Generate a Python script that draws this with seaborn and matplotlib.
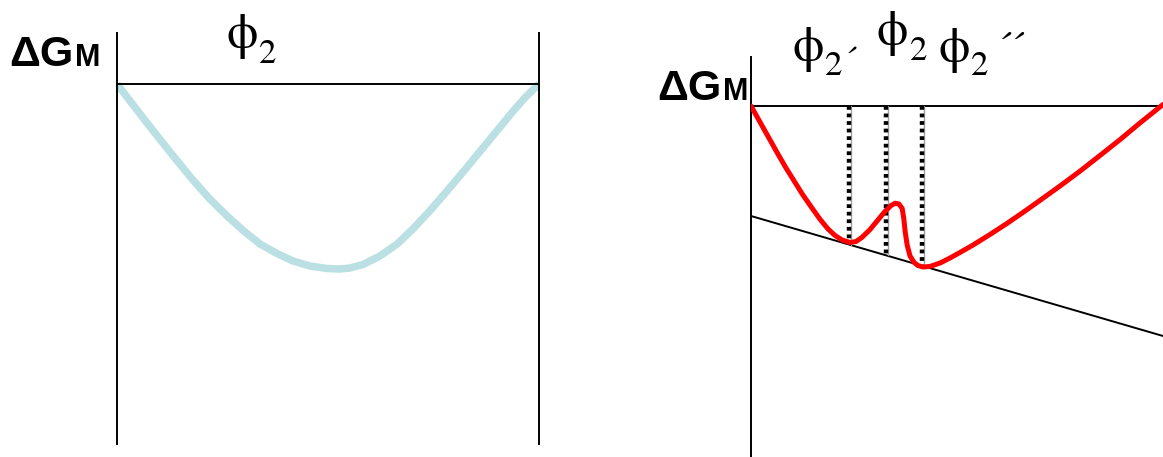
import matplotlib
matplotlib.use("Agg")
import matplotlib.pyplot as plt
import seaborn as sns
import pandas as pd

# Free energy of mixing vs. composition (arbitrary units, 0 = unmixed)
phi_single = [0.000, 0.031, 0.062, 0.102, 0.142, 0.180, 0.220, 0.261,
              0.299, 0.339, 0.379, 0.417, 0.457, 0.498, 0.528, 0.552,
              0.583, 0.623, 0.664, 0.701, 0.742, 0.782, 0.820, 0.860,
              0.900, 0.938, 0.967, 1.000]
dg_single = [0.000, -0.170, -0.340, -0.555, -0.765, -0.960, -1.150, -1.320,
             -1.465, -1.600, -1.695, -1.770, -1.820, -1.845, -1.850, -1.840,
             -1.805, -1.720, -1.600, -1.450, -1.265, -1.070, -0.880, -0.675,
             -0.470, -0.275, -0.135, 0.000]

phi_double = [0.000, 0.017, 0.034, 0.049, 0.066, 0.085, 0.107, 0.126,
              0.148, 0.167, 0.187, 0.204, 0.221, 0.240, 0.255, 0.269,
              0.289, 0.308, 0.325, 0.340, 0.350, 0.359, 0.367, 0.371,
              0.374, 0.379, 0.386, 0.396, 0.405, 0.417, 0.434, 0.459,
              0.483, 0.507, 0.539, 0.580, 0.621, 0.660, 0.701, 0.750,
              0.799, 0.847, 0.896, 0.944, 1.000]
dg_double = [0.000, -0.125, -0.250, -0.360, -0.485, -0.620, -0.765, -0.890,
             -1.020, -1.130, -1.230, -1.295, -1.340, -1.365, -1.355, -1.315,
             -1.235, -1.140, -1.055, -0.995, -0.972, -0.980, -1.025, -1.130,
             -1.250, -1.390, -1.500, -1.565, -1.595, -1.610, -1.605, -1.570,
             -1.520, -1.465, -1.390, -1.285, -1.175, -1.065, -0.945, -0.800,
             -0.650, -0.495, -0.335, -0.170, 0.015]

# Common tangent touching both minima
tangent_phi = [0.0, 1.0]
tangent_dg = [-1.10, -2.30]

# Compositions phi2', phi2, phi2'' and where their guide lines stop
marker_phi = [0.238, 0.327, 0.415]
marker_dg = [-1.39, -1.49, -1.61]

sns.set_theme(style="white")
plt.rcParams["font.family"] = ["Liberation Sans", "DejaVu Sans"]
plt.rcParams["text.color"] = "black"

W, H = 1163, 457
fig = plt.figure(figsize=(W / 100, H / 100), dpi=100)


def fx(px):
    return px / W


def fy(py):
    return 1 - py / H


def clean(ax):
    ax.set_xticks([])
    ax.set_yticks([])
    ax.set_xlabel("")
    ax.set_ylabel("")


# ---- left panel: single-phase (convex) curve ----
axl = fig.add_axes([fx(117), fy(444), fx(539) - fx(117), fy(33) - fy(444)])
axl.set_xlim(0, 1)
axl.set_ylim(-3.60, 0.51)
sns.lineplot(data=pd.DataFrame({"phi": phi_single, "dg": dg_single}),
             x="phi", y="dg", ax=axl, color="#BBE0E3", lw=5.4,
             solid_capstyle="butt", solid_joinstyle="round", sort=False)
axl.axhline(0, color="black", lw=1.4)
for side in ("top", "bottom"):
    axl.spines[side].set_visible(False)
for side in ("left", "right"):
    axl.spines[side].set_color("black")
    axl.spines[side].set_linewidth(1.4)
clean(axl)

# ---- right panel: phase-separating curve with common tangent ----
axr = fig.add_axes([fx(751), 0, fx(1163) - fx(751), fy(57)])
axr.set_xlim(0, 1)
axr.set_ylim(-3.51, 0.49)
axr.axhline(0, color="black", lw=1.4)
sns.lineplot(x=tangent_phi, y=tangent_dg, ax=axr, color="black", lw=1.4)
for xm, ym in zip(marker_phi, marker_dg):
    axr.plot([xm + 0.005, xm + 0.005], [0, ym], color="#a0a0a0", lw=1.0,
             zorder=2)
    axr.plot([xm, xm], [0, ym], color="black", lw=3.2,
             linestyle=(0, (0.85, 0.85)), zorder=3)
sns.lineplot(data=pd.DataFrame({"phi": phi_double, "dg": dg_double}),
             x="phi", y="dg", ax=axr, color="#FF0000", lw=3.6,
             solid_capstyle="round", solid_joinstyle="round", sort=False,
             zorder=4)
for side in ("top", "bottom", "right"):
    axr.spines[side].set_visible(False)
axr.spines["left"].set_color("black")
axr.spines["left"].set_linewidth(1.4)
clean(axr)

# ---- labels ----
renderer = fig.canvas.get_renderer()
serif = ["STIXGeneral", "Liberation Serif", "DejaVu Serif"]


def right_edge(txt):
    return txt.get_window_extent(renderer).x1


def dgm(x, y):
    t = fig.text(fx(x), fy(y), "ΔG", fontsize=31, fontweight="bold",
                 va="baseline", ha="left")
    xe = right_edge(t)
    fig.text(xe / W + fx(2), fy(y), "M", fontsize=22, fontweight="bold",
             va="baseline", ha="left")


def phi2(x, y, y2, suffix="", y3=None, dx3=4, size3=26):
    t = fig.text(fx(x), fy(y), "ϕ", fontsize=36, family=serif,
                 va="baseline", ha="left")
    xe = right_edge(t)
    t2 = fig.text(xe / W + fx(2), fy(y2), "2", fontsize=25, family=serif,
                  va="baseline", ha="left")
    if suffix:
        xe2 = right_edge(t2)
        fig.text(xe2 / W + fx(dx3), fy(y3), suffix, fontsize=size3,
                 family=serif, va="baseline", ha="left")


dgm(9, 66)
dgm(657, 100)
phi2(226, 48, 63)
phi2(792, 61, 75, "´", 72, 2)
phi2(877, 45, 60)
phi2(938, 62, 75, "´´", 60, 8, 30)

fig.savefig("out.png", dpi=100)
